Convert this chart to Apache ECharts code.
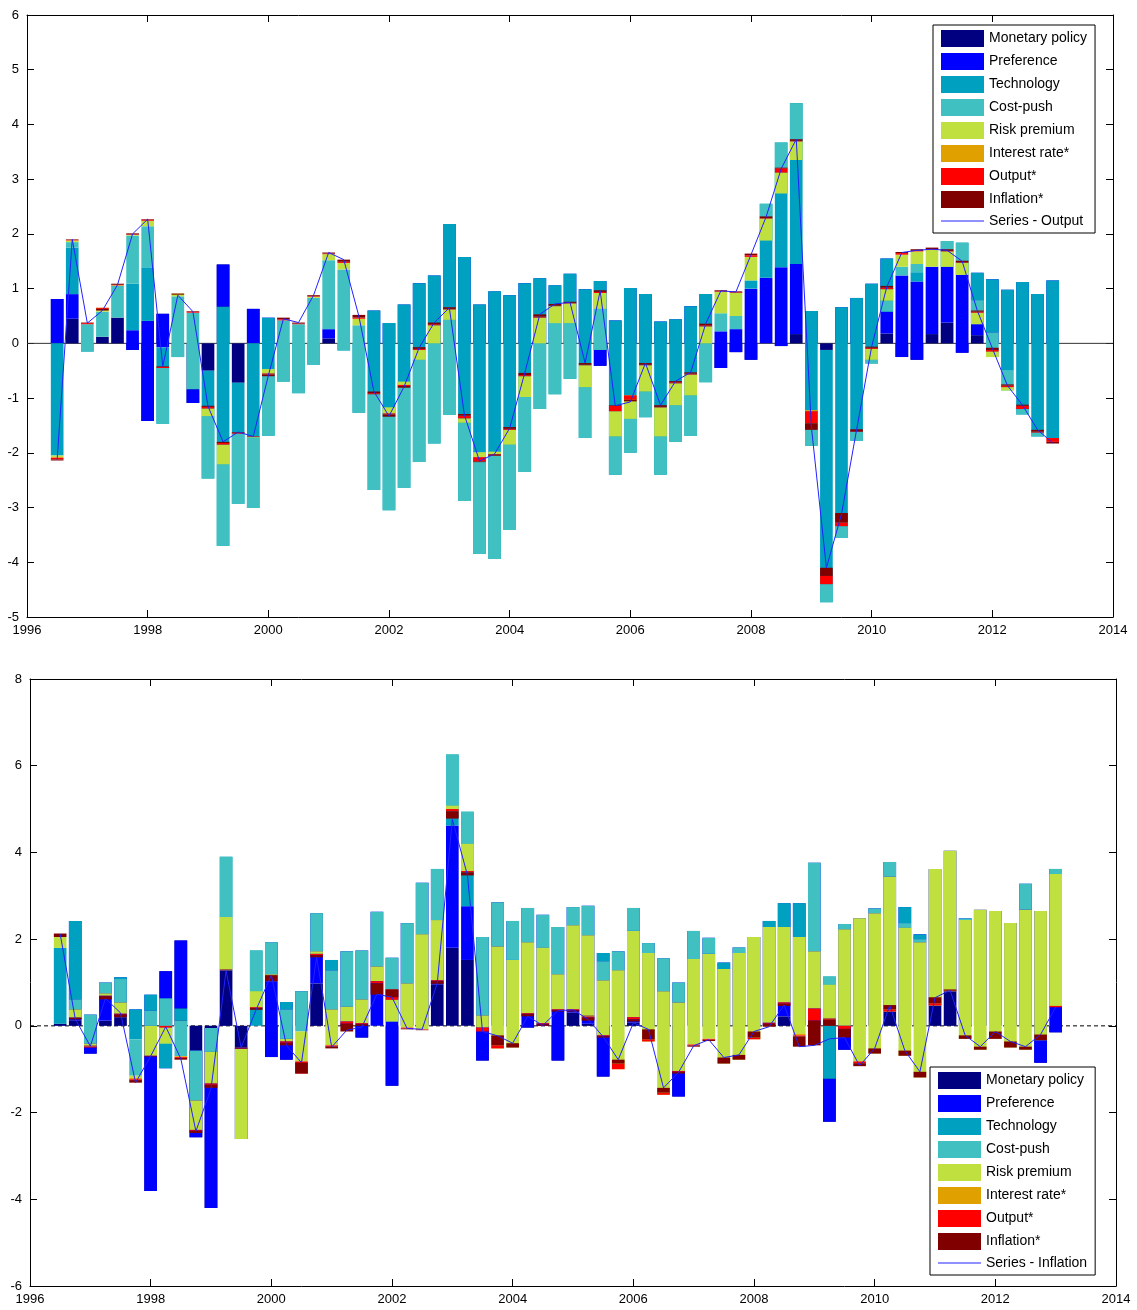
<!DOCTYPE html>
<html><head><meta charset="utf-8">
<script src="https://cdn.jsdelivr.net/npm/echarts@6/dist/echarts.min.js"></script>
<style>html,body{margin:0;padding:0;background:#fff}#chart{width:1137px;height:1310px}</style>
</head><body><div id="chart"></div>
<script>
const quarters = [1996.5,1996.75,1997,1997.25,1997.5,1997.75,1998,1998.25,1998.5,1998.75,
1999,1999.25,1999.5,1999.75,2000,2000.25,2000.5,2000.75,2001,2001.25,
2001.5,2001.75,2002,2002.25,2002.5,2002.75,2003,2003.25,2003.5,2003.75,
2004,2004.25,2004.5,2004.75,2005,2005.25,2005.5,2005.75,2006,2006.25,
2006.5,2006.75,2007,2007.25,2007.5,2007.75,2008,2008.25,2008.5,2008.75,
2009,2009.25,2009.5,2009.75,2010,2010.25,2010.5,2010.75,2011,2011.25,
2011.5,2011.75,2012,2012.25,2012.5,2012.75,2013];

const names = ['Monetary policy','Preference','Technology','Cost-push','Risk premium','Interest rate*','Output*','Inflation*'];
const colors = ['#000080','#0000FF','#00A0C0','#40C0C0','#C0E040','#E0A000','#FF0000','#800000'];

// ---- Panel 1: Output ----
const topMon = [0.81,0.45,0,0.12,0.47,-0.12,-1.42,0.54,0,-1.09,
-0.5,1.44,-0.72,0.63,0,0,0,0,0.09,0,
0,0,0,0,0,0,0,0,0,0,
0,0,0,0,0,0,-0.41,0,0,0,
0,0,0,0,-0.45,-0.16,-0.3,0,-0.05,0.17,
0,-0.12,0,0,0,0.18,-0.25,-0.3,0.17,0.38,
-0.17,0.15,0,0,0,0,0];
const topPref = [-0.81,0.45,0,0,0,0.36,1.83,-0.61,0,0.25,
0,-0.77,0,-0.63,0.47,0,0,0,0.17,0,
0,0.6,0.37,0.71,1.1,1.24,2.18,1.58,0.71,0.95,
0.88,1.1,1.19,1.06,1.27,0.99,1.55,0.42,1.01,0.9,
0.4,0.44,0.68,0.9,0.67,0.42,1.3,1.2,1.44,1.28,
0.59,0,0.66,0.83,1.09,1.37,1.49,1.43,1.23,1.02,
1.42,1.14,1.17,0.98,1.12,0.9,1.15];
const topTech = [-2.05,0.85,-0.15,0,0,0.85,0.98,-1.40,-0.25,0,
-1.97,-4.37,-2.21,-3.01,-2.16,-0.70,-0.91,-0.39,0,-0.13,
-1.27,-3.28,-3.42,-3.35,-3.27,-3.07,-3.49,-4.46,-4.56,-4.89,
-4.29,-3.45,-2.39,-1.99,-1.92,-2.72,-1.26,-2.82,-3.01,-2.25,
-2.80,-2.24,-2.37,-1.61,0,0,0.15,1.35,2.28,2.94,
-2.46,-4.61,-4.21,-2.61,-1.46,-0.97,0,0.17,0,0.47,
0.59,-0.5,-0.97,-1.48,-2.42,-2.6,-2.88];
const topCost = [0,0.10,0.50,0.46,0.58,0.88,0.75,1.02,1.11,1.40,
1.14,1.49,1.28,1.29,1.22,1.12,1.26,1.22,1.26,1.48,
1.60,1.75,1.88,1.94,1.87,1.83,1.74,1.43,1.86,1.96,
1.56,1.37,1.20,1.30,1.02,0.93,0.75,0.70,0.62,0.47,
0.70,0.67,0.74,0.71,0.33,0.24,0,-0.67,-0.93,-1.04,
0.65,0.33,0.21,0.16,0.07,0.20,0.16,0.15,0,-0.47,
-0.59,-0.44,-0.45,-0.36,0.10,0.07,0];
const topRisk = [-0.03,0.03,0,0.07,0.01,0.01,0.10,0,0.05,0,
0.14,0.36,0,0.01,-0.08,0,0,0.02,0.11,0.12,
0.12,0,-0.11,-0.06,0.18,0.33,0.19,0.08,-0.09,-0.05,
0.27,0.38,0.47,0.31,0.36,0.40,0.29,0.46,0.43,0.48,
0.53,0.40,0.38,0.31,0.39,0.42,0.43,0.40,0.38,0.34,
0,0,0,0,0.20,0.21,0.22,0.23,0.31,0.28,
0.22,0.21,0.10,0.06,0,0,0];
const topIR = [-0.01,0,0,0,0,0,0,0,0,0,
0,0,0,0,0,0,0,0,0,0,
0,0,0,0,0,0,0,0,0,0,
0,0,0,0,0,0,0,0,0,0,
0,0,0,0,0,0,0,0,0,0,
-0.02,0,0,0,0,0,0,0,0,0,
0,0,0,0,0,0,0];
const topOut = [-0.03,0.01,0.02,-0.02,0.01,0.01,0.02,0.02,0,0.02,
0.03,0.03,0.02,0.01,-0.02,0.02,0.01,0.01,0.01,0.02,
0.02,0.02,-0.02,-0.02,0.02,0.02,0.01,0.05,-0.08,-0.02,
0.02,0.02,0.02,0.01,0.01,0.01,0.02,0.10,-0.08,0.01,
0.01,0.02,0.02,0.02,0.01,0.01,0.03,0.01,0.08,0.01,
-0.22,0.15,0.07,0.01,0.02,0.03,0.03,0.01,0.01,0.01,
0.01,0.02,0.03,0.03,0.06,0.02,-0.07];
const topInf = [-0.02,0.01,0.01,-0.03,0.02,0.02,0.01,0.01,-0.02,0.01,
0.02,0.02,0.01,0,-0.03,0.03,0.02,0.02,0.02,0.04,
0.05,0.03,-0.04,-0.03,0.03,0.03,0.03,0.03,-0.01,0.02,
0.03,0.04,0.04,0.03,0.02,0.03,0.03,0.01,-0.03,0.03,
0.03,0.02,0.02,0.03,0.02,0.02,0.03,0.03,0.01,0.03,
-0.12,0.15,0.17,0.04,0.02,0.03,0.02,0.03,0.03,0.03,
0.03,0.02,0.04,0.02,0.02,0.03,-0.03];
const topLine = [-2.12,1.9,0.37,0.6,1.07,2.0,2.27,-0.42,0.88,0.58,
-1.15,-1.8,-1.62,-1.7,-0.59,0.45,0.38,0.88,1.66,1.53,
0.5,-0.88,-1.33,-0.79,-0.08,0.38,0.65,-1.31,-2.15,-2.02,
-1.55,-0.54,0.53,0.72,0.75,-0.36,0.96,-1.14,-1.07,-0.36,
-1.13,-0.69,-0.53,0.36,0.96,0.94,1.62,2.31,3.19,3.73,
-1.52,-4.1,-3.12,-1.58,-0.06,1.03,1.66,1.7,1.72,1.7,
1.5,0.6,-0.09,-0.77,-1.13,-1.58,-1.82];

// ---- Panel 2: Inflation ----
const botMon = [0.05,0.13,-0.64,0.12,0.2,0,-3.81,1.26,1.97,-2.57,
-4.2,1.28,-0.5,0,-0.72,-0.78,0,0.98,0,0,
-0.27,0,-1.38,0,0,0.96,1.8,1.52,-0.8,0,
0,-0.04,0,-0.8,0.31,0.05,-1.17,0,0.08,0,
0,-1.63,0,0,0,0,0,0,0.22,0,
0,-2.21,-0.55,0,0,0.33,0,0,0.47,0.8,
0,0,0,0,0,-0.85,-0.15];
const botPref = [0,2.29,0.9,0.88,0.92,0.38,4.53,-2.24,-1.57,2.0,
4.15,0,-2.11,0,2.65,1.33,0.8,1.62,1.52,1.72,
2.01,2.63,2.95,2.37,3.3,2.66,2.82,1.24,2.85,2.85,
2.42,2.76,2.56,3.08,2.43,2.72,2.85,1.72,2.64,1.91,
1.56,2.63,2.19,2.03,1.46,1.81,2.05,2.42,2.61,2.83,
3.76,0.99,2.9,2.48,2.71,3.45,2.74,2.11,3.15,3.24,
2.48,2.68,2.65,2.37,3.28,3.5,3.77];
const botTech = [1.75,-1.81,0,0,-0.04,-0.69,-0.37,1.61,-0.28,0,
0,2.62,0,1.74,0,-0.17,0,0,-0.24,0,
0,0,0,0,0,0,1.64,2.18,0,0,
0,0,0,0,0,0,-0.19,0,0,0,
0,0,0,0,-0.15,0,0,-0.14,-0.55,-0.78,
0,2.36,0,0,0,0,-0.37,-0.11,0,0,
0,0,0,0,0,0,0];
const botCost = [0,-0.23,-0.67,-0.25,-0.54,-0.84,-0.35,-1.04,-0.82,-1.15,
-0.55,-1.39,0,-0.94,-0.74,-0.68,-0.93,-0.88,-0.9,-1.28,
-1.13,-1.26,-1.47,-1.39,-1.19,-1.18,-1.18,-0.74,-1.81,-1.02,
-0.9,-0.79,-0.76,-1.09,-0.42,-0.68,-0.44,-0.44,-0.53,-0.23,
-0.76,-0.46,-0.65,-0.37,0,-0.13,0,0,0,0,
-2.04,-0.19,-0.12,0,-0.11,-0.34,-0.11,-0.07,0,0,
-0.04,0,0,0,-0.6,0,-0.12];
const botRisk = [0.25,-0.19,-0.04,-0.05,-0.26,-0.05,-0.69,0.37,0,-0.68,
-0.73,-1.21,2.08,-0.37,-0.16,-0.06,-0.69,-0.06,-0.83,-0.34,
-0.55,-0.34,0.5,-1.02,-2.19,-1.39,-0.08,-0.63,-0.28,-2.35,
-2.02,-1.64,-1.74,-0.81,-1.94,-1.85,-1.27,-2.28,-1.99,-2.04,
-2.39,-1.58,-1.97,-1.96,-2.18,-2.46,-2.36,-2.21,-1.74,-2.23,
-1.32,-0.78,-2.23,-3.30,-3.24,-3.11,-2.95,-3.12,-3.15,-3.24,
-2.74,-3.23,-2.95,-2.87,-3.23,-2.98,-3.04];
const botIR = [0,0,-0.03,-0.01,0,-0.03,0,0,-0.02,0,
0,0,0,0,0,0,0,0,0,0,
0,0,0,0,0,0,0,0,0,0,
0,0,0,0,0,-0.03,0,0,0,0,
0,0,0,0,0,0,0,0,0,-0.04,
0,0,0,0,0,0,0,0,0,0,
0,0,0,0,0,0,0];
const botOut = [0,0,-0.02,-0.01,-0.02,-0.02,-0.01,0.04,-0.02,-0.02,
-0.03,-0.01,0.01,-0.02,0,-0.03,-0.28,-0.03,-0.02,-0.05,
-0.02,-0.05,0.24,-0.02,-0.01,-0.02,-0.05,-0.03,-0.09,0.07,
0,-0.02,-0.02,-0.02,-0.02,-0.02,-0.02,0.13,-0.05,0.05,
0.05,-0.02,-0.02,-0.02,0,0,0.04,-0.02,-0.03,-0.02,
-0.28,-0.03,-0.07,-0.04,0,0.05,0,0,0.05,0.01,
0,0,0,0,0,0,-0.03];
const botInf = [0.08,-0.04,0,-0.07,-0.06,-0.06,-0.01,0,-0.04,-0.05,
-0.07,-0.01,0.02,-0.04,0.14,-0.06,0.25,-0.05,-0.05,-0.18,
-0.04,-0.26,-0.18,-0.02,-0.01,-0.06,-0.17,-0.07,0,0.23,
0.1,-0.05,-0.04,-0.03,-0.03,-0.07,-0.03,0.09,-0.05,0.23,
0.11,-0.04,-0.03,-0.03,0.14,0.11,0.14,-0.07,-0.05,-0.24,
-0.57,-0.14,-0.2,-0.07,0.12,0.10,0.12,0.13,0.14,0.03,
0.08,0.07,0.17,0.14,0.07,0.13,0];
const botLine = [2.12,0.16,-0.47,0.63,0.3,-1.31,-0.7,-0.02,-0.76,-2.43,
-1.45,1.27,-0.5,0.38,1.17,-0.45,-0.85,1.58,-0.49,-0.1,
-0.03,0.73,0.66,-0.06,-0.08,0.98,4.76,3.48,-0.13,-0.23,
-0.4,0.22,0.01,0.35,0.37,0.15,-0.25,-0.78,0.07,-0.08,
-1.43,-1.07,-0.46,-0.32,-0.73,-0.67,-0.13,-0.02,0.48,-0.48,
-0.45,-0.3,-0.27,-0.92,-0.52,0.47,-0.57,-1.06,0.65,0.82,
-0.22,-0.48,-0.13,-0.36,-0.48,-0.2,0.43];

const xTicks = {min: 1996, max: 2014, interval: 2};
const topY = {min: -5, max: 6, interval: 1};
const botY = {min: -6, max: 8, interval: 2};

const FONT = 'Liberation Sans, Arial, Helvetica, sans-serif';
const BAR_W = 0.21; // bar width in years
const LINE_COLOR = '#2222FF';

// MATLAB-style cumulative stacking: each contribution runs from the previous running total
function cumulativeSegments(components) {
  const out = components.map(() => []);
  for (let t = 0; t < quarters.length; t++) {
    let run = 0;
    components.forEach((arr, k) => {
      const start = run;
      run = Math.round((run + arr[t]) * 1000) / 1000;
      out[k].push([quarters[t], start, run]);
    });
  }
  return out;
}

function renderSeg(params, api) {
  const x = api.value(0), a = api.value(1), b = api.value(2);
  if (a === b) return null;
  const p0 = api.coord([x, a]), p1 = api.coord([x, b]);
  const w = api.size([BAR_W, 0])[0];
  return {
    type: 'rect',
    shape: {x: p0[0] - w / 2, y: Math.min(p0[1], p1[1]), width: w, height: Math.abs(p0[1] - p1[1])},
    style: {fill: api.visual('color')}
  };
}

function panelSeries(components, line, lineName, gi) {
  const xi = gi * 2, yi = gi * 2;
  const segs = cumulativeSegments(components);
  const s = [];
  s.push({
    type: 'line', name: 'zero' + gi, xAxisIndex: xi, yAxisIndex: yi, silent: true, z: 1,
    symbol: 'none', data: [[1996, 0], [2014, 0]],
    lineStyle: {color: gi === 0 ? '#333' : '#000', width: 1, type: gi === 0 ? 'solid' : [4, 3]}
  });
  segs.forEach((data, k) => {
    s.push({
      type: 'custom', name: names[k], xAxisIndex: xi, yAxisIndex: yi, z: 2 + k,
      renderItem: renderSeg, encode: {x: 0, y: [1, 2]},
      itemStyle: {color: colors[k]}, data: data
    });
  });
  s.push({
    type: 'line', name: lineName, xAxisIndex: xi, yAxisIndex: yi, z: 20,
    symbol: 'none', data: quarters.map((q, i) => [q, line[i]]),
    lineStyle: {color: LINE_COLOR, width: 1}, itemStyle: {color: LINE_COLOR}
  });
  return s;
}

function xAxes(gi) {
  const base = {gridIndex: gi, type: 'value', min: xTicks.min, max: xTicks.max, interval: xTicks.interval,
    splitLine: {show: false},
    axisLine: {onZero: false, lineStyle: {color: '#000', width: 1}},
    axisTick: {inside: true, length: 7, lineStyle: {color: '#000'}}};
  return [
    Object.assign({}, base, {position: 'bottom',
      axisLabel: {color: '#000', fontSize: 13, fontFamily: FONT, margin: 7, showMinLabel: true, showMaxLabel: true,
        formatter: v => String(v)}}),
    Object.assign({}, base, {position: 'top', axisLabel: {show: false}})
  ];
}
function yAxes(gi, r) {
  const base = {gridIndex: gi, type: 'value', min: r.min, max: r.max, interval: r.interval,
    splitLine: {show: false},
    axisLine: {onZero: false, lineStyle: {color: '#000', width: 1}},
    axisTick: {inside: true, length: 7, lineStyle: {color: '#000'}}};
  return [
    Object.assign({}, base, {position: 'left',
      axisLabel: {color: '#000', fontSize: 13, fontFamily: FONT, margin: 8, showMinLabel: true, showMaxLabel: true,
        formatter: v => String(v)}}),
    Object.assign({}, base, {position: 'right', axisLabel: {show: false}})
  ];
}

function legend(left, top, lineName) {
  return {
    orient: 'vertical', left: left, top: top, selectedMode: false,
    itemWidth: 43, itemHeight: 17, itemGap: 6, padding: [5, 8, 5, 8],
    borderColor: '#000', borderWidth: 1, backgroundColor: '#fff',
    textStyle: {fontSize: 14, fontFamily: FONT, color: '#000'},
    data: names.map(n => ({name: n, icon: 'rect'})).concat([{
      name: lineName,
      icon: 'path://M0,0L43,0L43,1.2L0,1.2Z',
      itemStyle: {color: LINE_COLOR}
    }])
  };
}

const chart = echarts.init(document.getElementById('chart'), null, {renderer: 'canvas'});
chart.setOption({
  animation: false,
  backgroundColor: '#fff',
  grid: [
    {left: 27, top: 15, width: 1086, height: 602},
    {left: 30, top: 679, width: 1086, height: 607}
  ],
  xAxis: xAxes(0).concat(xAxes(1)),
  yAxis: yAxes(0, topY).concat(yAxes(1, botY)),
  legend: [legend(933, 25, 'Series - Output'), legend(930, 1067, 'Series - Inflation')],
  series: panelSeries([topMon, topPref, topTech, topCost, topRisk, topIR, topOut, topInf], topLine, 'Series - Output', 0)
    .concat(panelSeries([botMon, botPref, botTech, botCost, botRisk, botIR, botOut, botInf], botLine, 'Series - Inflation', 1))
});
</script></body></html>
